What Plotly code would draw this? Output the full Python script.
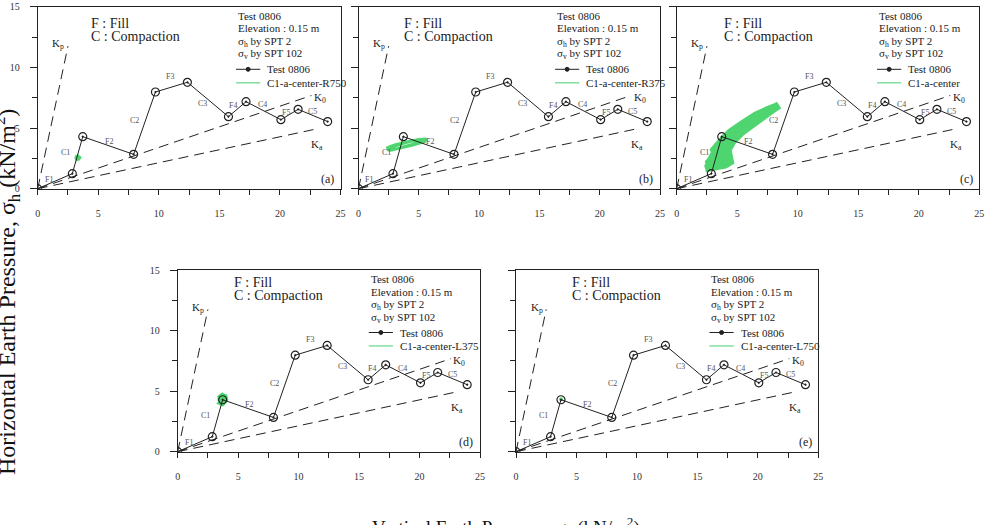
import plotly.graph_objects as go

# ---------------- data ----------------
test_x = [0, 2.86, 3.72, 7.92, 9.72, 12.36, 15.75, 17.2, 20.08, 21.5, 23.94]
test_y = [0, 1.24, 4.29, 2.83, 7.97, 8.77, 5.94, 7.17, 5.69, 6.54, 5.53]
stage_labels = ["F1", "C1", "F2", "C2", "F3", "C3", "F4", "C4", "F5", "C5"]

k_names = ["K<sub>p</sub>", "K<sub>0</sub>", "K<sub>a</sub>"]
k_slopes = [4.7, 0.34, 0.214]
k_xend = [2.5, 22.6, 23.0]

panel_letters = ["(a)", "(b)", "(c)", "(d)", "(e)"]
green_names = ["C1-a-center-R750", "C1-a-center-R375", "C1-a-center",
               "C1-a-center-L375", "C1-a-center-L750"]
info_lines = ["Test 0806", "Elevation : 0.15 m",
              "σ<sub>h</sub> by SPT 2", "σ<sub>v</sub> by SPT 102"]

green_a_x = [3.05, 3.55, 3.15, 3.5, 3.2, 3.45, 3.1, 3.55, 3.25, 3.4, 3.3]
green_a_y = [2.5, 2.6, 2.35, 2.7, 2.4, 2.45, 2.7, 2.5, 2.75, 2.35, 2.55]

green_b_x = [2.3, 3.0, 4.0, 5.0, 5.6, 5.5, 4.5, 3.5, 2.6, 2.4, 3.3, 4.3, 5.4, 5.2, 4.2, 3.2, 2.35]
green_b_y = [3.35, 3.6, 3.85, 4.05, 4.1, 3.9, 3.6, 3.35, 3.15, 3.3, 3.62, 3.9, 4.05, 3.85, 3.55, 3.3, 3.2]

green_c_x = [2.5, 2.7, 3.1, 3.6, 4.3, 5.2, 6.2, 7.2, 8.2,
             8.3, 7.3, 6.3, 5.4, 4.7, 4.3, 4.4, 4.5, 4.0, 3.3, 2.6,
             2.55, 2.9, 3.3, 3.9, 4.7, 5.6, 6.6, 7.6, 8.3,
             8.0, 7.0, 6.0, 5.1, 4.5, 4.0, 3.5, 3.2, 3.4, 3.9, 4.1, 3.8, 3.3,
             3.0, 3.6, 4.4, 5.4, 6.5, 7.6, 8.1,
             7.4, 6.4, 5.5, 4.8, 4.4, 4.2, 3.9, 3.4, 2.8, 2.6, 3.2, 3.9, 4.6]
green_c_y = [1.7, 2.3, 3.0, 3.6, 4.3, 5.0, 5.7, 6.3, 6.85,
             6.7, 6.0, 5.3, 4.6, 3.9, 3.2, 2.6, 2.2, 1.9, 1.75, 1.65,
             1.9, 2.6, 3.3, 3.9, 4.6, 5.3, 5.9, 6.5, 6.9,
             6.5, 5.8, 5.1, 4.4, 3.7, 3.0, 2.6, 2.3, 2.0, 2.1, 2.5, 2.8, 2.6,
             3.2, 3.9, 4.7, 5.4, 6.1, 6.6, 6.8,
             6.2, 5.55, 4.9, 4.2, 3.5, 2.9, 2.4, 2.2, 1.8, 2.2, 2.9, 3.5, 4.1]

green_d_x = [3.72, 3.3, 4.1, 3.6, 3.8, 3.4, 4.05, 3.5, 4.0, 3.72, 3.75, 3.35, 4.15]
green_d_y = [4.29, 4.3, 4.4, 4.75, 3.85, 4.0, 4.65, 4.6, 4.0, 4.29, 4.8, 4.5, 4.2]

green_e_x = [3.6, 3.85, 3.65, 3.8, 3.7]
green_e_y = [4.25, 4.35, 4.35, 4.2, 4.3]

green_x = [green_a_x, green_b_x, green_c_x, green_d_x, green_e_x]
green_y = [green_a_y, green_b_y, green_c_y, green_d_y, green_e_y]

# ---------------- layout geometry ----------------
W, H = 995, 525
panels = [
    dict(px=(37.7, 340.5), py=(188.7, 6.7), ylab=True, info_x=0.655, fc=(0.168, 0.909, 0.839)),
    dict(px=(358.5, 660.0), py=(188.7, 6.7), ylab=False, info_x=0.652, fc=(0.144, 0.909, 0.839)),
    dict(px=(676.7, 979.3), py=(188.7, 6.7), ylab=False, info_x=0.662, fc=(0.149, 0.909, 0.839)),
    dict(px=(177.7, 480.0), py=(451.7, 270.0), ylab=True, info_x=0.632, fc=(0.179, 0.93, 0.858)),
    dict(px=(516.0, 818.3), py=(451.7, 270.0), ylab=False, info_x=0.64, fc=(0.179, 0.93, 0.858)),
]
stage_pos = [(0.9, 0.75), (2.3, 3.0), (5.9, 3.9), (8.0, 5.6), (10.9, 9.25),
             (13.6, 7.0), (16.1, 6.85), (18.6, 6.9), (20.5, 6.3), (22.7, 6.4)]
k_label_pos = [(1.7, 11.9), (23.3, 7.45), (23.1, 3.6)]
info_y = [0.949, 0.881, 0.807, 0.738, 0.656, 0.582]

SERIF = "Liberation Serif"
GREEN = "rgba(60,208,95,0.9)"

fig = go.Figure()
annotations = []
shapes = []
layout_axes = {}


def text(x, y, xref, yref, t, size, color="#222", xanchor="center"):
    return dict(x=x, y=y, xref=xref, yref=yref, text=t, showarrow=False,
                xanchor=xanchor, yanchor="middle",
                font=dict(family=SERIF, size=size, color=color))


for i, p in enumerate(panels):
    n = "" if i == 0 else str(i + 1)
    xa, ya = "x" + n, "y" + n
    # green record
    fig.add_trace(go.Scatter(x=green_x[i], y=green_y[i], mode="lines",
                             line=dict(color=GREEN, width=6 if i == 2 else 3),
                             xaxis=xa, yaxis=ya, showlegend=False, hoverinfo="skip"))
    # K lines
    for s, xe in zip(k_slopes, k_xend):
        fig.add_trace(go.Scatter(x=[0, xe], y=[0, s * xe], mode="lines",
                                 line=dict(color="#222", width=1, dash="10px,6px"),
                                 xaxis=xa, yaxis=ya, showlegend=False, hoverinfo="skip"))
    # test path
    fig.add_trace(go.Scatter(x=test_x, y=test_y, mode="lines+markers",
                             line=dict(color="#222", width=1),
                             marker=dict(symbol="circle-open-dot", size=8,
                                         line=dict(color="#222", width=1.2)),
                             xaxis=xa, yaxis=ya, showlegend=False))

    x0, x1 = p["px"][0] / W, p["px"][1] / W
    yb, yt = 1 - p["py"][0] / H, 1 - p["py"][1] / H
    common = dict(showgrid=False, zeroline=False, showline=True, mirror=True, automargin=False,
                  linecolor="#222", linewidth=1, ticks="outside", tickcolor="#222",
                  tickfont=dict(family=SERIF, size=10, color="#333"))
    layout_axes["xaxis" + n] = dict(
        domain=[x0, x1], range=[0, 25], anchor=ya,
        tickvals=[0, 5, 10, 15, 20, 25], ticklen=5, ticklabelstandoff=10,
        minor=dict(dtick=2.5, tick0=0, ticks="outside", ticklen=5, tickcolor="#222"),
        **common)
    layout_axes["yaxis" + n] = dict(
        domain=[yb, yt], range=[0, 15], anchor=xa,
        tickvals=[0, 5, 10, 15], ticklen=7, showticklabels=p["ylab"], ticklabelstandoff=8,
        minor=dict(dtick=2.5, tick0=0, ticks="outside", ticklen=5, tickcolor="#222"),
        **common)

    for lab, (sx, sy) in zip(stage_labels, stage_pos):
        annotations.append(text(sx, sy, xa, ya, lab, 8, "#555"))
    for lab, (kx, ky) in zip(k_names, k_label_pos):
        annotations.append(text(kx, ky, xa, ya, lab, 11))
    dx, dy = xa + " domain", ya + " domain"
    fx, fy1, fy2 = p["fc"]
    annotations.append(text(fx, fy1, dx, dy, "F : Fill", 14, xanchor="left"))
    annotations.append(text(fx, fy2, dx, dy, "C : Compaction", 14, xanchor="left"))
    ix = p["info_x"]
    for t, yy in zip(info_lines, info_y[:4]):
        annotations.append(text(ix, yy, dx, dy, t, 11, xanchor="left"))
    # legend samples
    lx0, lx1 = ix, ix + 0.08
    shapes.append(dict(type="line", xref=dx, yref=dy, x0=lx0, x1=lx1, y0=info_y[4], y1=info_y[4],
                       line=dict(color="#222", width=1)))
    shapes.append(dict(type="circle", xref=dx, yref=dy, xsizemode="pixel", ysizemode="pixel",
                       xanchor=(lx0 + lx1) / 2, yanchor=info_y[4], x0=-2, x1=2, y0=-2, y1=2,
                       fillcolor="#222", line=dict(color="#222", width=1)))
    shapes.append(dict(type="line", xref=dx, yref=dy, x0=lx0, x1=lx1, y0=info_y[5], y1=info_y[5],
                       line=dict(color="rgb(130,222,160)", width=1.5)))
    annotations.append(text(lx1 + 0.017, info_y[4], dx, dy, "Test 0806", 11, xanchor="left"))
    annotations.append(text(lx1 + 0.017, info_y[5], dx, dy, green_names[i], 11, xanchor="left"))
    annotations.append(text(0.985, 0.055, dx, dy, panel_letters[i], 12, xanchor="right"))

annotations.append(dict(x=7 / W, y=1 - 292 / H, xref="paper", yref="paper",
                        text="Horizontal Earth Pressure, σ<sub>h</sub> (kN/m<sup>2</sup>)",
                        textangle=-90, showarrow=False, xanchor="center", yanchor="middle",
                        font=dict(family=SERIF, size=24, color="#111")))
annotations.append(dict(x=506 / W, y=1 - 512 / H, xref="paper", yref="paper",
                        text="Vertical Earth Pressure, σ<sub>v</sub> (kN/m<sup>2</sup>)",
                        showarrow=False, xanchor="center", yanchor="top",
                        font=dict(family=SERIF, size=19, color="#111")))

fig.update_layout(width=W, height=H, margin=dict(l=0, r=0, t=0, b=0),
                  paper_bgcolor="white", plot_bgcolor="rgba(0,0,0,0)",
                  showlegend=False, annotations=annotations, shapes=shapes, **layout_axes)
fig.write_html("out.html")
